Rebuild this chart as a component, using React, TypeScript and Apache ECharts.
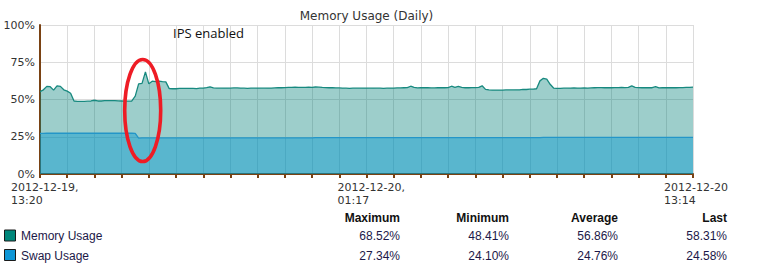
import React, { useEffect, useRef } from "react";
import * as echarts from "echarts";

// ---- data (samples every 7.5 minutes) ----
const memoryUsage: number[] = [
  55.3, 56.5, 58.8, 58.6, 56.3, 59.2, 58.8, 56.5, 55.6, 54.2,
  49.0, 48.8, 48.8, 48.8, 48.9, 49.0, 49.5, 49.0, 49.0, 49.2,
  49.2, 49.3, 49.3, 49.1, 49.0, 48.9, 48.9, 49.0, 52.3, 60.5,
  60.8, 68.52, 60.5, 62.3, 62.0, 62.3, 62.0, 61.8, 57.3, 57.2,
  57.2, 57.4, 57.4, 57.5, 57.5, 57.4, 57.3, 57.6, 57.7, 58.0,
  58.5, 57.8, 57.6, 57.6, 57.7, 57.7, 57.6, 57.8, 57.8, 57.7,
  57.6, 57.5, 57.6, 57.6, 57.7, 57.6, 57.6, 57.7, 57.7, 57.8,
  57.9, 57.9, 58.0, 58.1, 58.2, 58.3, 58.2, 58.1, 58.2, 58.3,
  58.2, 58.4, 58.3, 58.1, 58.0, 57.9, 57.9, 57.8, 57.8, 57.7,
  57.6, 57.5, 57.6, 57.6, 57.6, 57.7, 57.7, 57.6, 57.7, 57.6,
  57.6, 57.5, 57.6, 57.7, 57.7, 57.8, 57.8, 57.9, 58.0, 58.9,
  58.2, 57.8, 57.9, 57.9, 57.9, 57.8, 57.8, 57.9, 57.9, 57.9,
  58.0, 58.9, 58.2, 58.8, 58.1, 57.9, 57.9, 58.0, 58.0, 58.2,
  59.2, 56.8, 56.4, 56.3, 56.3, 56.3, 56.3, 56.4, 56.4, 56.4,
  56.5, 56.5, 56.8, 56.7, 56.9, 57.0, 57.2, 62.5, 64.2, 63.6,
  60.2, 57.7, 57.5, 57.5, 57.6, 57.6, 57.7, 57.8, 57.7, 57.7,
  57.8, 57.7, 57.8, 57.9, 58.0, 58.0, 57.9, 57.9, 57.9, 58.0,
  58.0, 58.1, 58.0, 58.1, 59.1, 58.2, 58.0, 57.9, 57.9, 57.9,
  57.9, 58.6, 57.8, 57.9, 58.0, 57.9, 57.9, 57.9, 58.0, 58.0,
  58.1, 58.2, 58.31,
];
const swapUsage: number[] = [
  27.3, 27.3, 27.34, 27.34, 27.34, 27.34, 27.34, 27.34, 27.34, 27.34,
  27.34, 27.34, 27.34, 27.34, 27.34, 27.34, 27.34, 27.34, 27.34, 27.34,
  27.34, 27.34, 27.34, 27.34, 27.34, 27.34, 27.34, 27.34, 27.3, 24.1,
  24.2, 24.2, 24.2, 24.2, 24.2, 24.2, 24.2, 24.2, 24.2, 24.2,
  24.2, 24.2, 24.2, 24.2, 24.2, 24.2, 24.2, 24.2, 24.2, 24.2,
  24.2, 24.2, 24.2, 24.2, 24.2, 24.2, 24.2, 24.2, 24.2, 24.2,
  24.2, 24.2, 24.2, 24.2, 24.2, 24.2, 24.2, 24.2, 24.2, 24.2,
  24.2, 24.2, 24.2, 24.2, 24.2, 24.2, 24.2, 24.2, 24.2, 24.2,
  24.2, 24.45, 24.45, 24.45, 24.45, 24.45, 24.45, 24.45, 24.45, 24.45,
  24.45, 24.45, 24.45, 24.45, 24.45, 24.45, 24.45, 24.45, 24.45, 24.45,
  24.45, 24.45, 24.45, 24.45, 24.45, 24.45, 24.45, 24.45, 24.45, 24.45,
  24.45, 24.45, 24.45, 24.45, 24.45, 24.45, 24.45, 24.45, 24.45, 24.45,
  24.45, 24.45, 24.45, 24.45, 24.45, 24.45, 24.45, 24.45, 24.45, 24.45,
  24.45, 24.45, 24.45, 24.45, 24.45, 24.45, 24.45, 24.45, 24.45, 24.45,
  24.45, 24.45, 24.45, 24.45, 24.45, 24.45, 24.45, 24.45, 24.6, 24.6,
  24.6, 24.6, 24.6, 24.6, 24.6, 24.6, 24.6, 24.6, 24.6, 24.6,
  24.6, 24.6, 24.6, 24.6, 24.6, 24.6, 24.6, 24.6, 24.6, 24.6,
  24.6, 24.6, 24.6, 24.6, 24.6, 24.6, 24.6, 24.6, 24.6, 24.6,
  24.6, 24.6, 24.6, 24.6, 24.6, 24.6, 24.6, 24.6, 24.6, 24.6,
  24.6, 24.6, 24.58,
];
const xTickLabels: Record<number, string[]> = {
  0: ["2012-12-19,", "13:20"],
  96: ["2012-12-20,", "01:17"],
  192: ["2012-12-20", "13:14"],
};
const yTicks = [0, 25, 50, 75, 100];
const seriesNames = ["Memory Usage", "Swap Usage"];
const statHeaders = ["Maximum", "Minimum", "Average", "Last"];
const memoryStats = ["68.52%", "48.41%", "56.86%", "58.31%"];
const swapStats = ["27.34%", "24.10%", "24.76%", "24.58%"];
const chartTitle = "Memory Usage (Daily)";
const annotation = "IPS enabled";

const BROWN = "#7a4213";
const MEM_LINE = "#17897f";
const SWAP_LINE = "#2496c8";

export default function App() {
  const ref = useRef<HTMLDivElement>(null);
  useEffect(() => {
    if (!ref.current) return;
    const chart = echarts.init(ref.current, undefined, { renderer: "svg" });
    const statCols = [400, 509, 618, 727];
    const rowY = [236, 255.5];
    const statRows = [memoryStats, swapStats];
    const legendColors = ["#00877b", "#0d96d6"];
    const graphics: any[] = [
      {
        type: "text",
        x: 366.5,
        y: 16,
        style: {
          text: chartTitle,
          fontFamily: "DejaVu Sans",
          fontSize: 12,
          fill: "#333",
          align: "center",
          verticalAlign: "middle",
        },
      },
      {
        type: "text",
        x: 173,
        y: 33,
        z: 100,
        style: {
          text: annotation,
          fontFamily: "Open Sans",
          fontSize: 13,
          fill: "#111",
          align: "left",
          verticalAlign: "middle",
        },
      },
      {
        type: "ellipse",
        z: 100,
        shape: { cx: 142.7, cy: 110.5, rx: 18, ry: 51 },
        style: { fill: "none", stroke: "#ee1c25", lineWidth: 3.6 },
      },
    ];
    statHeaders.forEach((h, i) => {
      graphics.push({
        type: "text",
        x: statCols[i],
        y: 217.5,
        style: {
          text: h,
          fontFamily: "Liberation Sans",
          fontWeight: "bold",
          fontSize: 12,
          fill: "#111",
          align: "right",
          verticalAlign: "middle",
        },
      });
    });
    seriesNames.forEach((name, r) => {
      graphics.push({
        type: "rect",
        shape: { x: 4.5, y: rowY[r] - 6, width: 11, height: 11 },
        style: { fill: legendColors[r], stroke: "#1a1a1a", lineWidth: 1 },
      });
      graphics.push({
        type: "text",
        x: 21,
        y: rowY[r],
        style: {
          text: name,
          fontFamily: "Liberation Sans",
          fontSize: 12,
          fill: "#1c1848",
          align: "left",
          verticalAlign: "middle",
        },
      });
      statRows[r].forEach((v, i) => {
        graphics.push({
          type: "text",
          x: statCols[i],
          y: rowY[r],
          style: {
            text: v,
            fontFamily: "Liberation Sans",
            fontSize: 12,
            fill: "#1c1848",
            align: "right",
            verticalAlign: "middle",
          },
        });
      });
    });

    chart.setOption({
      animation: false,
      grid: { left: 40, right: 85, top: 25, bottom: 97, containLabel: false },
      xAxis: {
        type: "value",
        min: 0,
        max: memoryUsage.length - 1,
        interval: 8,
        axisLine: { show: true, lineStyle: { color: BROWN, width: 2 } },
        axisTick: { show: true, length: 4, lineStyle: { color: BROWN, width: 2 } },
        splitLine: { show: true, lineStyle: { color: "#dcdcdc", width: 1 } },
        axisLabel: {
          showMinLabel: true,
          showMaxLabel: true,
          margin: 7,
          padding: [0, 0, 0, 12],
          formatter: (v: number) => {
            const l = xTickLabels[Math.round(v)];
            return l ? `{a|${l[0]}}\n{a|${l[1]}}` : "";
          },
          rich: {
            a: {
              width: 70,
              align: "left",
              fontFamily: "DejaVu Sans",
              fontSize: 11,
              color: "#333",
              lineHeight: 13,
            },
          },
        },
      },
      yAxis: {
        type: "value",
        min: yTicks[0],
        max: yTicks[yTicks.length - 1],
        interval: 25,
        axisLine: { show: true, lineStyle: { color: BROWN, width: 2 } },
        axisTick: { show: false },
        splitLine: { show: true, lineStyle: { color: "#dcdcdc", width: 1 } },
        axisLabel: {
          formatter: "{value}%",
          fontFamily: "DejaVu Sans",
          fontSize: 11,
          color: "#333",
          margin: 5,
        },
      },
      series: [
        {
          name: seriesNames[0],
          type: "line",
          showSymbol: false,
          data: memoryUsage.map((v, i) => [i, v]),
          lineStyle: { color: MEM_LINE, width: 1.3 },
          areaStyle: { color: "rgba(0,128,120,0.385)", opacity: 1 },
        },
        {
          name: seriesNames[1],
          type: "line",
          showSymbol: false,
          data: swapUsage.map((v, i) => [i, v]),
          lineStyle: { color: SWAP_LINE, width: 1.3 },
          areaStyle: { color: "rgba(0,150,210,0.43)", opacity: 1 },
        },
      ],
      graphic: graphics,
    });
    return () => chart.dispose();
  }, []);
  return (
    <div
      ref={ref}
      style={{ position: "fixed", left: 0, top: 0, width: 778, height: 271, background: "#fff" }}
    />
  );
}
